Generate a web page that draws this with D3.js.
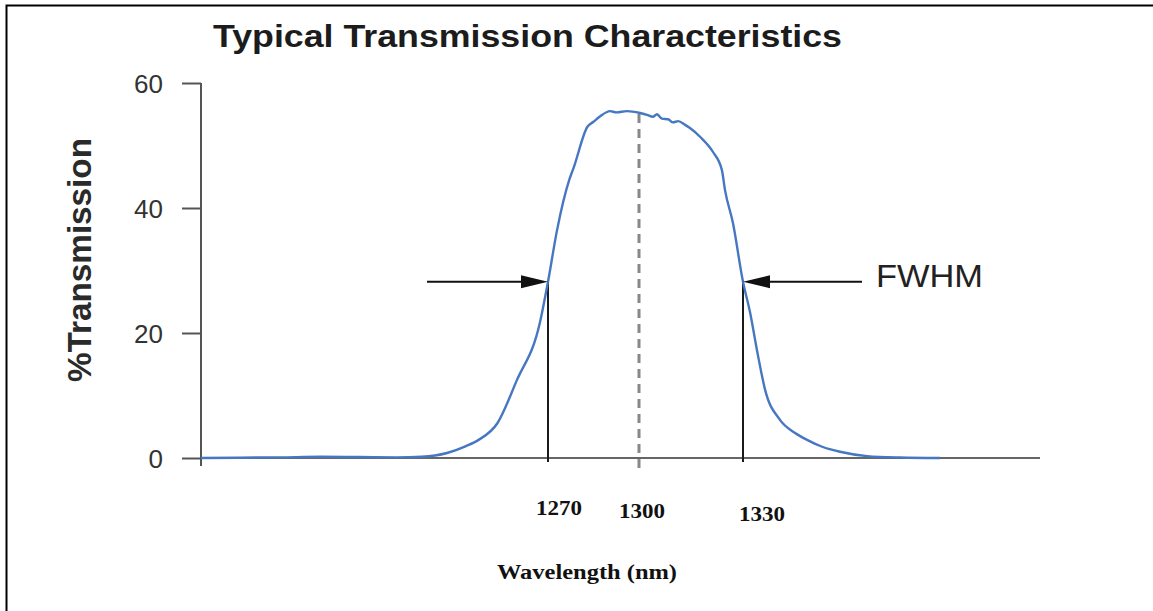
<!DOCTYPE html>
<html>
<head>
<meta charset="utf-8">
<script src="https://cdn.jsdelivr.net/npm/d3@7"></script>
<style>
  html, body { margin: 0; padding: 0; background: #fff; }
  svg { display: block; }
</style>
</head>
<body>
<div id="chart"></div>
<script>
// values
const wavelengths = [1160, 1172, 1185, 1198, 1210, 1222, 1230, 1238, 1244, 1248,
  1254, 1260, 1267.5, 1270, 1273, 1277, 1278.5, 1283, 1285, 1287,
  1290.5, 1292.5, 1296, 1300.3, 1302.3, 1304, 1305.2, 1306.6, 1308.4, 1309.8,
  1311.3, 1313.3, 1314.7, 1317.6, 1321.3, 1323.9, 1324.8, 1327.1, 1330, 1332.1,
  1334.5, 1336.7, 1341.2, 1345.8, 1349.4, 1354, 1359.4, 1367.6, 1377.6, 1389.7];
const transmission = [0, 0.05, 0.1, 0.2, 0.15, 0.1, 0.2, 0.8, 1.9, 2.9,
  5.6, 12.3, 21.8, 28.2, 36.5, 44.5, 46.5, 53, 53.8, 54.6,
  55.5, 55.3, 55.5, 55.2, 54.9, 54.6, 55, 54.3, 54.2, 53.7,
  53.9, 53.3, 52.8, 51.4, 49, 46.1, 42.9, 37.6, 28.2, 23.4,
  16.5, 10.9, 6.1, 4, 2.9, 1.8, 1, 0.3, 0.08, 0];

const yTicks = [0, 20, 40, 60];
const xMarks = [1270, 1300, 1330];
const fwhmEdges = [1270, 1330];
const halfMax = 28.2;
const centre = 1300;
const peakAtCentre = 55.3;

const width = 1153;
const height = 611;

const svg = d3.select("#chart")
  .append("svg")
  .attr("width", width)
  .attr("height", height);

svg.append("rect")
  .attr("width", width).attr("height", height)
  .attr("fill", "#fff");

// frame (only top and left edges show in the original)
svg.append("rect")
  .attr("x", 6.5).attr("y", 5.5)
  .attr("width", 1300).attr("height", 800)
  .attr("fill", "none")
  .attr("stroke", "#000")
  .attr("stroke-width", 2);

// the drawing is not evenly spaced, so the x scale is piecewise
const x = d3.scaleLinear()
  .domain([1160, 1270, 1300, 1330, 1420])
  .range([201, 548, 639, 743, 1040]);

const y = d3.scaleLinear()
  .domain([0, 60])
  .range([458, 83]);

// title
svg.append("text")
  .attr("x", 213).attr("y", 47)
  .attr("font-family", "Liberation Sans, Arial, sans-serif")
  .attr("font-weight", "bold")
  .attr("font-size", 32)
  .attr("textLength", 629)
  .attr("lengthAdjust", "spacingAndGlyphs")
  .attr("fill", "#1c1c1c")
  .text("Typical Transmission Characteristics");

// y axis
const yAxis = d3.axisLeft(y)
  .tickValues(yTicks)
  .tickSize(19)
  .tickPadding(19)
  .tickSizeOuter(0);

const gy = svg.append("g")
  .attr("transform", `translate(${x(1160)},0)`)
  .call(yAxis);

gy.select(".domain").remove();
gy.selectAll(".tick line")
  .attr("stroke", "#555")
  .attr("stroke-width", 2);
gy.selectAll(".tick text")
  .attr("font-family", "Liberation Sans, Arial, sans-serif")
  .attr("font-size", 26)
  .attr("fill", "#333")
  .attr("dy", "0.36em");

svg.append("line")
  .attr("x1", x(1160)).attr("x2", x(1160))
  .attr("y1", y(60)).attr("y2", y(0) + 8)
  .attr("stroke", "#555")
  .attr("stroke-width", 2);

svg.append("text")
  .attr("transform", `translate(91,260) rotate(-90)`)
  .attr("text-anchor", "middle")
  .attr("font-family", "Liberation Sans, Arial, sans-serif")
  .attr("font-weight", "bold")
  .attr("font-size", 33)
  .attr("textLength", 244)
  .attr("lengthAdjust", "spacingAndGlyphs")
  .attr("fill", "#2a2a2a")
  .text("%Transmission");

// x axis line
svg.append("line")
  .attr("x1", x(1160)).attr("x2", x(1420))
  .attr("y1", y(0)).attr("y2", y(0))
  .attr("stroke", "#666")
  .attr("stroke-width", 2);

// centre wavelength, dashed
svg.append("line")
  .attr("x1", x(centre)).attr("x2", x(centre))
  .attr("y1", y(0) + 10).attr("y2", y(peakAtCentre))
  .attr("stroke", "#888")
  .attr("stroke-width", 3)
  .attr("stroke-dasharray", "9,6");

// FWHM verticals
svg.selectAll(".edge")
  .data(fwhmEdges)
  .join("line")
  .attr("class", "edge")
  .attr("x1", d => x(d)).attr("x2", d => x(d))
  .attr("y1", y(0) + 4).attr("y2", y(halfMax))
  .attr("stroke", "#1a1a1a")
  .attr("stroke-width", 2);

// curve
const line = d3.line()
  .x((d, i) => x(wavelengths[i]))
  .y(d => y(d))
  .curve(d3.curveMonotoneX);

svg.append("path")
  .datum(transmission)
  .attr("d", line)
  .attr("fill", "none")
  .attr("stroke", "#4677c2")
  .attr("stroke-width", 2.4)
  .attr("stroke-linejoin", "round");

// arrows pointing at the half-max crossings
const arrowLen = 27, arrowHalf = 6.5;
const arrows = [
  { tip: 1270, from: 427, dir: 1 },
  { tip: 1330, from: 862, dir: -1 },
];
const ay = y(halfMax);
arrows.forEach(a => {
  const tx = x(a.tip);
  svg.append("line")
    .attr("x1", a.from).attr("x2", tx - a.dir * arrowLen)
    .attr("y1", ay).attr("y2", ay)
    .attr("stroke", "#111")
    .attr("stroke-width", 2);
  svg.append("path")
    .attr("d", `M${tx},${ay} L${tx - a.dir * arrowLen},${ay - arrowHalf} L${tx - a.dir * arrowLen},${ay + arrowHalf} Z`)
    .attr("fill", "#111");
});

svg.append("text")
  .attr("x", 876).attr("y", 287)
  .attr("font-family", "Liberation Sans, Arial, sans-serif")
  .attr("font-size", 31)
  .attr("textLength", 107)
  .attr("lengthAdjust", "spacingAndGlyphs")
  .attr("fill", "#222")
  .text("FWHM");

// wavelength labels (slightly offset as in the original)
const labelNudge = [[11, 57], [3, 60], [19, 63]];
svg.selectAll(".xlabel")
  .data(xMarks)
  .join("text")
  .attr("class", "xlabel")
  .attr("x", (d, i) => x(d) + labelNudge[i][0])
  .attr("y", (d, i) => y(0) + labelNudge[i][1])
  .attr("text-anchor", "middle")
  .attr("font-family", "Liberation Serif, Times New Roman, serif")
  .attr("font-weight", "bold")
  .attr("font-size", 20)
  .attr("textLength", 46)
  .attr("lengthAdjust", "spacingAndGlyphs")
  .attr("fill", "#111")
  .text(d => d);

svg.append("text")
  .attr("x", 587).attr("y", 579)
  .attr("text-anchor", "middle")
  .attr("font-family", "Liberation Serif, Times New Roman, serif")
  .attr("font-weight", "bold")
  .attr("font-size", 20)
  .attr("textLength", 180)
  .attr("lengthAdjust", "spacingAndGlyphs")
  .attr("fill", "#111")
  .text("Wavelength (nm)");
</script>
</body>
</html>
